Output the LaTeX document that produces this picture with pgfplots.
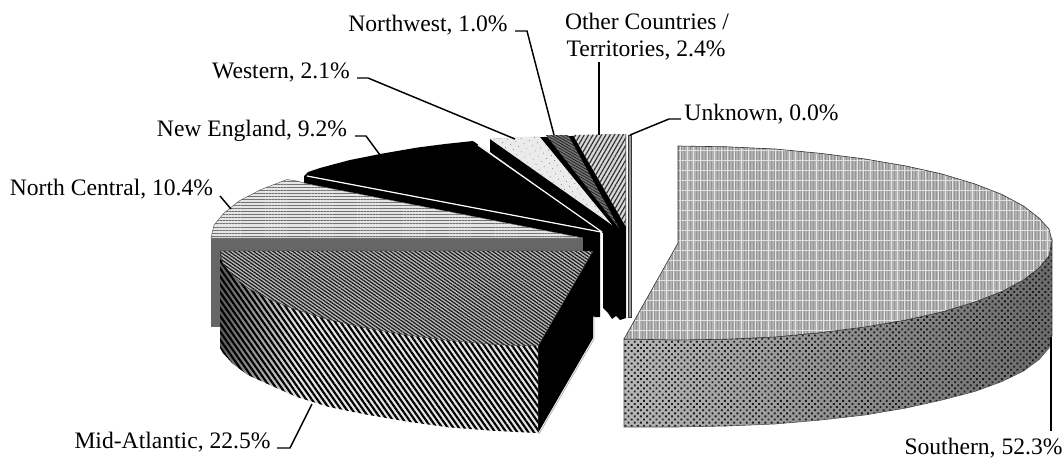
\documentclass[border=0pt]{standalone}
\usepackage{fontspec}
\setmainfont{Liberation Serif}
\usepackage{pgfplots}
\usepackage{pgfplotstable}
\pgfplotsset{compat=1.18}
\usetikzlibrary{patterns.meta}
\newcommand{\lab}{\fontsize{17.7}{20}\selectfont}
\tikzset{lab/.style={anchor=base, inner sep=0pt, outer sep=0pt, text=black}}
\pgfplotstableread{
x y
624 339
678 340
727 339.2
775 337
821 332.6
865 327
906 320
942 312
975 302
1002 291.5
1023.5 280
1039 268
1049 255.7
1052 241
1049 229
1039 218
1023.5 206
1002 194.5
975 184
942 174
906 166
865 159
821 153.4
775 149
727 146.8
678 146
678 243
}\tSouthTop
\pgfplotstableread{
x y
624 339
678 340
727 339.2
775 337
821 332.6
865 327
906 320
942 312
975 302
1002 291.5
1023.5 280
1039 268
1049 255.7
1052 241
1052 336
1049 348
1039 359.6
1023.5 371
1002 381.5
975 391.4
942 400
906 408
865 415
821 420
775 424
727 426
678 427
624 427
}\tSouthSide
\pgfplotstableread{
x y
593 251
220 251
223 263.7
233 276
248 288
270 299.5
297 310
329 319.6
366 328
406.5 335
450 340.6
496.5 344.7
538 346
}\tMidTop
\pgfplotstableread{
x y
220 251
223 263.7
233 276
248 288
270 299.5
297 310
329 319.6
366 328
406.5 335
450 340.6
496.5 344.7
538 346
538 433
496.5 431
450 427.5
406.5 421.5
366 414.5
329 407
297 397
270 385
248 375
233 364
223 353
220 348
}\tMidSide
\pgfplotstableread{
x y
220 251
223 263.7
233 276
248 288
270 299.5
297 310
297 397
270 385
248 375
233 364
223 353
220 348
}\tMidLeft
\pgfplotstableread{
x y
538 346
593 251
593 338
538 433
}\tMidWall
\pgfplotstableread{
x y
211 238
583 238
583 327
211 327
}\tNCFront
\pgfplotstableread{
x y
583 238
211 238
214 225
224 213
239 201
261 189.5
287 179.5
297 181
308 184
}\tNCTop
\pgfplotstableread{
x y
473 141
600 230
600 317
583 317
583 238
308 184
304 183
304 176
308 172
320 168
333 164.5
350 160
380 154
417 147.6
445 144
}\tNE
\pgfplotstableread{
x y
490 139
626 134
626 318
620 320
616 316
612 319
608 313
603 308
603 233
490 152
}\tBack
\pgfplotstableread{
x y
490 139
539 136
612 225
}\tWest
\pgfplotstableread{
x y
546 135
568 135
619 228
}\tNW
\pgfplotstableread{
x y
573 135
625.5 134
625.5 226
}\tOther
\pgfplotstableread{
x y
628 135
631.5 135
631.5 317
628 317
}\tUnknown
\begin{document}
\begin{tikzpicture}
\begin{axis}[
  scale only axis, width=798pt, height=345pt,
  xmin=0, xmax=1064, ymin=0, ymax=460, y dir=reverse,
  hide axis, clip=false,
]
\addplot[draw=none] coordinates {(0,0) (1064,460)};
% back wedges
\addplot[fill=black, draw=none] table {\tBack} -- cycle;
\addplot[fill=black!8, draw=none] table {\tWest} -- cycle;
\addplot[draw=none, pattern={Dots[radius=.35pt,distance=4.5pt,angle=30]}, pattern color=black!60] table {\tWest} -- cycle;
\addplot[fill=black!55, draw=none] table {\tNW} -- cycle;
\addplot[draw=none, pattern={Lines[angle=-30,distance=1.8pt,line width=.5pt]}, pattern color=black!90] table {\tNW} -- cycle;
\addplot[fill=black!15, draw=none] table {\tOther} -- cycle;
\addplot[draw=none, pattern={Lines[angle=60,distance=2.8pt,line width=.9pt]}, pattern color=black!80] table {\tOther} -- cycle;
\addplot[fill=black!40, draw=black!80, line width=.5pt] table {\tUnknown} -- cycle;
% New England
\addplot[fill=black, draw=none] table {\tNE} -- cycle;
\addplot[draw=white, line width=.9pt] coordinates {(478,145) (602,232)};
\addplot[draw=white, line width=.9pt] coordinates {(307,176) (601,232)};
% North Central
\addplot[fill=black!60, draw=none] table {\tNCFront} -- cycle;
\addplot[fill=black!10, draw=none] table {\tNCTop} -- cycle;
\addplot[draw=black!70, line width=.3pt, pattern={Lines[angle=0,distance=2.3pt,line width=.55pt]}, pattern color=black!55] table {\tNCTop} -- cycle;
% Mid-Atlantic
\addplot[fill=black, draw=none] table {\tMidWall} -- cycle;
\addplot[draw=black!30, line width=.6pt] coordinates {(594,316) (594,339) (539,434)};
\addplot[draw=none, fill=black!10] table {\tMidSide} -- cycle;
\addplot[draw=none, left color=black!65, right color=black!10] table {\tMidLeft} -- cycle;
\addplot[draw=none, pattern={Lines[angle=-55,distance=3.4pt,line width=1.6pt]}, pattern color=black] table {\tMidSide} -- cycle;
\addplot[fill=black!28, draw=none] table {\tMidTop} -- cycle;
\addplot[draw=black!80, line width=.3pt, pattern={Lines[angle=-35,distance=2.1pt,line width=.9pt]}, pattern color=black!90] table {\tMidTop} -- cycle;
% Southern
\addplot[draw=none, left color=black!28, middle color=black!50, right color=black!58] table {\tSouthSide} -- cycle;
\addplot[draw=none, pattern={Dots[radius=1pt,distance=3.3pt,angle=45]}, pattern color=black!90] table {\tSouthSide} -- cycle;
\addplot[draw=black!70, line width=.4pt] table {\tSouthSide} -- cycle;
\addplot[fill=black!30, draw=none] table {\tSouthTop} -- cycle;
\addplot[draw=none, pattern={Lines[angle=90,distance=2.25pt,line width=.5pt]}, pattern color=black!42] table {\tSouthTop} -- cycle;
\addplot[draw=none, pattern={Lines[angle=90,distance=5.1pt,line width=.45pt]}, pattern color=black!10] table {\tSouthTop} -- cycle;
\addplot[draw=black!80, line width=.45pt, pattern={Lines[angle=0,distance=7.5pt,line width=.3pt]}, pattern color=black!12] table {\tSouthTop} -- cycle;
% leader lines
\addplot[black, line width=1.1pt] coordinates {(357,78) (368,78) (515,139)};
\addplot[black, line width=1.1pt] coordinates {(515,31) (527,31) (554,135)};
\addplot[black, line width=1.1pt] coordinates {(599,62) (599,135)};
\addplot[black, line width=1.1pt] coordinates {(681,119) (669,119) (630,135)};
\addplot[black, line width=1.1pt] coordinates {(355,136) (366,136) (380,155)};
\addplot[black, line width=1.1pt] coordinates {(220,196) (231,209)};
\addplot[black, line width=1.1pt] coordinates {(277,448) (290,448) (312,404)};
\addplot[black, line width=1.1pt] coordinates {(1051,337) (1051,431)};
% labels
\node[lab] at (428,32) {\lab Northwest, 1.0\%};
\node[lab] at (281,79) {\lab Western, 2.1\%};
\node[lab] at (252,136.5) {\lab New England, 9.2\%};
\node[lab] at (111.5,195.5) {\lab North Central, 10.4\%};
\node[lab] at (172.5,448.5) {\lab Mid-Atlantic, 22.5\%};
\node[lab] at (983.5,454) {\lab Southern, 52.3\%};
\node[lab] at (761.5,120.5) {\lab Unknown, 0.0\%};
\node[lab] at (647,30) {\lab Other Countries /};
\node[lab] at (646,57) {\lab Territories, 2.4\%};
\end{axis}
\end{tikzpicture}
\end{document}
